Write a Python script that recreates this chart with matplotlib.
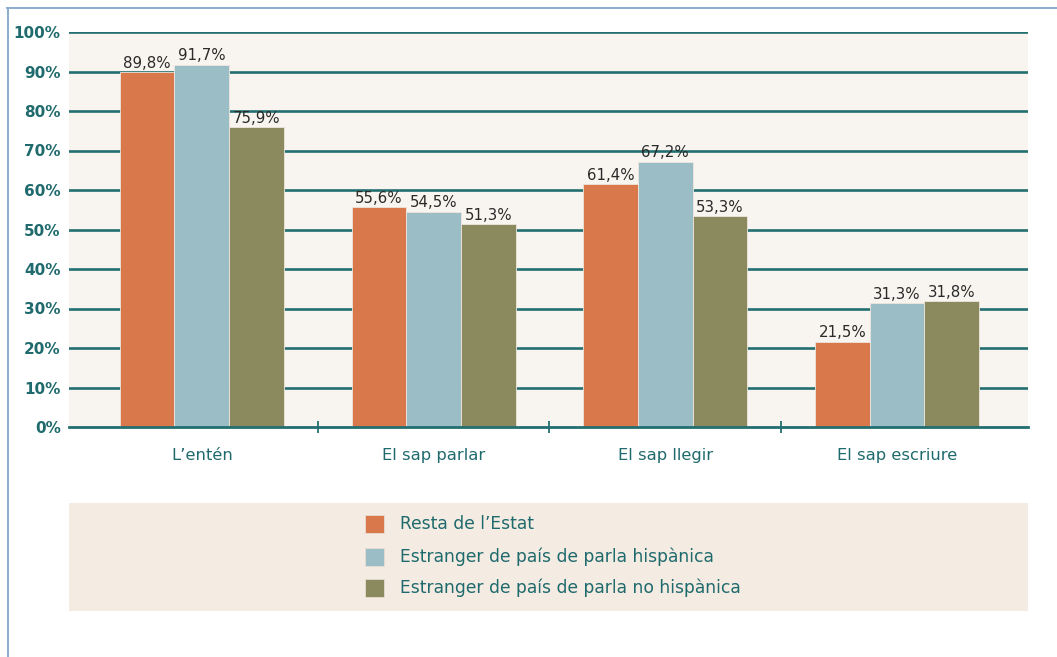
import matplotlib
matplotlib.use("Agg")
import matplotlib.pyplot as plt
from matplotlib.lines import Line2D
from matplotlib.patches import Rectangle
import numpy as np

# Data
categories = ["L\u2019entén", "El sap parlar", "El sap llegir", "El sap escriure"]
series_names = [
    "Resta de l\u2019Estat",
    "Estranger de país de parla hispànica",
    "Estranger de país de parla no hispànica",
]
resta_estat = [89.8, 55.6, 61.4, 21.5]
estranger_hisp = [91.7, 54.5, 67.2, 31.3]
estranger_no_hisp = [75.9, 51.3, 53.3, 31.8]
y_ticks = [0, 10, 20, 30, 40, 50, 60, 70, 80, 90, 100]

series_values = [resta_estat, estranger_hisp, estranger_no_hisp]
colors = ["#d9784a", "#9abdc6", "#8a8a5e"]
teal = "#1f6a6d"
grid_teal = "#236e70"

W, H = 1057, 657
fig = plt.figure(figsize=(W / 100, H / 100), dpi=100)
fig.patch.set_facecolor("white")

def fx(px):
    return px / W

def fy(py):
    return 1 - py / H

ax = fig.add_axes([fx(69), fy(427), fx(1028) - fx(69), fy(32) - fy(427)])
ax.set_facecolor("#f8f4ef")

x = np.arange(len(categories))
bw = 0.236
for i, (vals, col) in enumerate(zip(series_values, colors)):
    pos = x + (i - 1) * bw
    bars = ax.bar(pos, vals, width=bw, color=col, edgecolor="#efe6dc",
                  linewidth=0.6, zorder=3)
    for b, v in zip(bars, vals):
        ax.text(b.get_x() + b.get_width() / 2, v + 0.4,
                f"{v:.1f}%".replace(".", ","), ha="center", va="bottom",
                fontsize=10.8, color="#2a2a2a", zorder=4)

ax.set_xlim(-0.573, 3.565)
ax.set_ylim(0, 100)

# horizontal grid lines
for t in y_ticks[1:]:
    ax.axhline(t, color=grid_teal, linewidth=1.9, zorder=1)

for s in ["top", "right", "left"]:
    ax.spines[s].set_visible(False)
ax.spines["bottom"].set_color(grid_teal)
ax.spines["bottom"].set_linewidth(2.0)
ax.spines["bottom"].set_zorder(5)

ax.set_yticks(y_ticks)
ax.set_yticklabels([f"{t}%" for t in y_ticks])
ax.tick_params(axis="y", length=0, pad=6, labelsize=11, labelcolor=teal)
for lbl in ax.get_yticklabels():
    lbl.set_fontweight("bold")

ax.set_xticks(x)
ax.set_xticklabels(categories)
ax.tick_params(axis="x", which="major", length=0, pad=15, labelsize=11.8,
               labelcolor=teal)
ax.set_xticks(x[:-1] + 0.5, minor=True)
ax.tick_params(axis="x", which="minor", direction="inout", length=9,
               width=1.3, color=grid_teal)

# legend panel
fig.patches.append(Rectangle((fx(69), fy(611)), fx(1028) - fx(69),
                             fy(503) - fy(611), transform=fig.transFigure,
                             facecolor="#f4ebe2", edgecolor="none", zorder=0))
rows = [524, 557, 588]
for name, col, yc in zip(series_names, colors, rows):
    fig.patches.append(Rectangle((fx(365), fy(yc + 9)), fx(19), 18 / H,
                                 transform=fig.transFigure, facecolor=col,
                                 edgecolor="#e8ddd2", linewidth=0.6, zorder=1))
    fig.text(fx(400), fy(yc), name, ha="left", va="center", fontsize=12.3,
             color=teal)

# outer frame lines
fig.add_artist(Line2D([fx(7), 1], [fy(8), fy(8)], color="#8aaed0",
                      linewidth=1.4, transform=fig.transFigure))
fig.add_artist(Line2D([fx(8), fx(8)], [fy(8), 0], color="#8aaed0",
                      linewidth=1.4, transform=fig.transFigure))

fig.savefig("out.png", dpi=100)
